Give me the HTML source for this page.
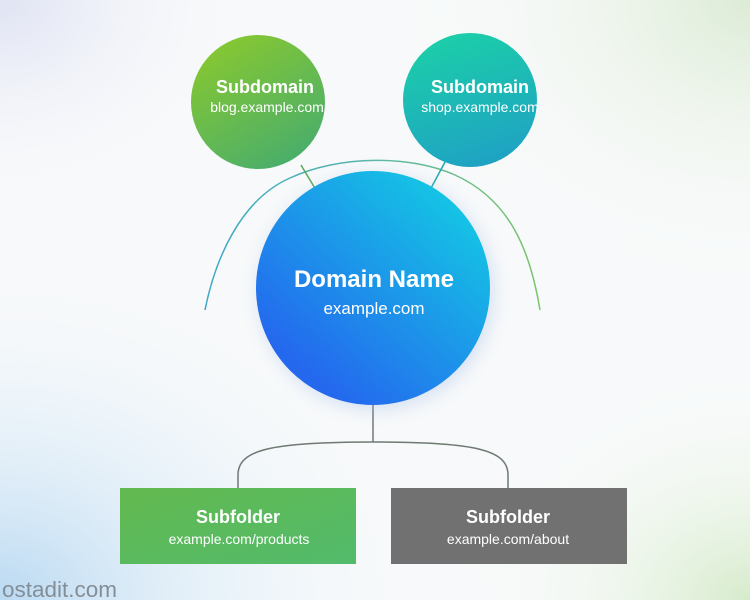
<!DOCTYPE html>
<html><head><meta charset="utf-8"><style>
html,body{margin:0;padding:0;width:750px;height:600px;overflow:hidden;}
svg{display:block;font-family:"Liberation Sans",sans-serif;}
</style></head><body>
<svg width="750" height="600" viewBox="0 0 750 600" xmlns="http://www.w3.org/2000/svg">
<defs>
<radialGradient id="bgL" cx="0" cy="1" r="0.6"><stop offset="0" stop-color="#b9d9f2"/><stop offset="1" stop-color="#ffffff" stop-opacity="0"/></radialGradient>
<radialGradient id="bgR" cx="1" cy="0" r="0.5"><stop offset="0" stop-color="#dcebd5"/><stop offset="1" stop-color="#ffffff" stop-opacity="0"/></radialGradient>
<radialGradient id="bgR2" cx="1" cy="1" r="0.4"><stop offset="0" stop-color="#d6ebcb"/><stop offset="1" stop-color="#ffffff" stop-opacity="0"/></radialGradient>
<radialGradient id="bgTL" cx="0" cy="0" r="0.4"><stop offset="0" stop-color="#dfe3f3"/><stop offset="1" stop-color="#ffffff" stop-opacity="0"/></radialGradient>
<linearGradient id="gL" x1="0" y1="0" x2="0.6" y2="1"><stop offset="0" stop-color="#8fcb2a"/><stop offset="1" stop-color="#4caf68"/></linearGradient>
<linearGradient id="gR" x1="0.3" y1="0" x2="0.6" y2="1"><stop offset="0" stop-color="#1ccfa8"/><stop offset="1" stop-color="#1ea2c4"/></linearGradient>
<linearGradient id="gM" x1="0.85" y1="0.1" x2="0.2" y2="0.85"><stop offset="0" stop-color="#14c6e4"/><stop offset="1" stop-color="#2468ee"/></linearGradient>
<linearGradient id="arc" x1="0" y1="0" x2="1" y2="0"><stop offset="0" stop-color="#3aa7c8"/><stop offset="0.5" stop-color="#5bb7a8"/><stop offset="1" stop-color="#7cc46a"/></linearGradient>
<linearGradient id="gB" x1="0" y1="0" x2="1" y2="1"><stop offset="0" stop-color="#63b94f"/><stop offset="1" stop-color="#52bb6c"/></linearGradient>
<filter id="sh" x="-30%" y="-30%" width="160%" height="160%"><feGaussianBlur stdDeviation="8"/></filter>
</defs>
<rect width="750" height="600" fill="#f7f9fa"/>
<rect width="750" height="600" fill="url(#bgL)"/>
<rect width="750" height="600" fill="url(#bgR)"/>
<rect width="750" height="600" fill="url(#bgR2)"/>
<rect width="750" height="600" fill="url(#bgTL)"/>
<path d="M205 310 C215 260 240 200 290 178 C340 155 410 155 455 175 C510 200 530 250 540 310" fill="none" stroke="url(#arc)" stroke-width="1.5"/>
<line x1="301" y1="165" x2="316" y2="190" stroke="#5aa95a" stroke-width="1.5"/>
<line x1="445" y1="162" x2="430" y2="190" stroke="#1faab0" stroke-width="1.5"/>
<path d="M373 405 L373 442" stroke="#6f7780" stroke-width="1.5" fill="none"/>
<path d="M238 488 L238 475 C238 450 270 442 373 442 C476 442 508 450 508 475 L508 488" stroke="#6f7a72" stroke-width="1.5" fill="none"/>
<circle cx="258" cy="102" r="67" fill="url(#gL)"/>
<circle cx="470" cy="100" r="67" fill="url(#gR)"/>
<circle cx="376" cy="292" r="118" fill="#9ab6e8" opacity="0.35" filter="url(#sh)"/>
<circle cx="373" cy="288" r="117" fill="url(#gM)"/>
<g fill="#fff" text-anchor="middle">
<text x="265" y="93" font-size="18" font-weight="bold">Subdomain</text>
<text x="267" y="112" font-size="14">blog.example.com</text>
<text x="480" y="93" font-size="18" font-weight="bold">Subdomain</text>
<text x="480" y="112" font-size="14">shop.example.com</text>
<text x="374" y="287" font-size="24" font-weight="bold">Domain Name</text>
<text x="374" y="314" font-size="17">example.com</text>
</g>
<rect x="120" y="488" width="236" height="76" fill="url(#gB)"/>
<rect x="391" y="488" width="236" height="76" fill="#717171"/>
<g fill="#fff" text-anchor="middle">
<text x="238" y="523" font-size="18" font-weight="bold">Subfolder</text>
<text x="239" y="544" font-size="14">example.com/products</text>
<text x="508" y="523" font-size="18" font-weight="bold">Subfolder</text>
<text x="508" y="544" font-size="14">example.com/about</text>
</g>
<text x="2" y="597" font-size="22.5" fill="#848e97">ostadit.com</text>
</svg>
</body></html>
